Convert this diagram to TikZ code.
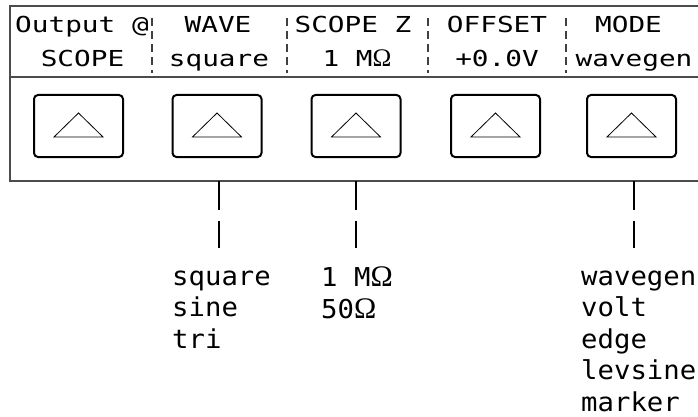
\documentclass[tikz,border=0pt]{standalone}
\usepackage{fontspec}
\usepackage{graphicx}
\newfontfamily\lcdtop[FakeStretch=1.26]{DejaVu Sans Mono}
\newfontfamily\lcdlow[FakeStretch=1.05]{DejaVu Sans Mono}
\newfontfamily\ohmfont{Liberation Serif}
\newcommand{\ohm}{{\ohmfont\scalebox{1.15}{Ω}}}
\begin{document}
\begin{tikzpicture}[x=1pt,y=-1pt,
  frameline/.style={draw=black!70, line width=1.5pt},
  divider/.style={draw=black!75, line width=1.2pt, dash pattern=on 8pt off 5pt},
  keybox/.style={draw=black, line width=2pt, rounded corners=4pt, minimum width=89pt, minimum height=62pt, inner sep=0pt},
  tri/.style={draw=black, line width=0.8pt},
  hdr/.style={font=\lcdtop\fontsize{22}{22}\selectfont, anchor=base, inner sep=0pt},
  opt/.style={font=\lcdlow\fontsize{26}{26}\selectfont, anchor=base west, inner sep=0pt},
  lead/.style={draw=black, line width=1.3pt}]
\useasboundingbox (0,0) rectangle (698,417);
% frame
\draw[frameline] (698,6) -- (10,6) -- (10,181) -- (698,181);
\draw[frameline] (10,77) -- (698,77);
% header dividers
\foreach \dx/\nm in {152/a,287/b,428/c,566/d}{
  \coordinate (dt\nm) at (\dx,18);
  \coordinate (db\nm) at (\dx,73);
  \draw[divider] (dt\nm) -- (db\nm);
}
% header texts
\node[hdr] (h1a) at (82,33) {Output @};
\node[hdr] (h2a) at (218,33) {WAVE};
\node[hdr] (h3a) at (353,33) {SCOPE Z};
\node[hdr] (h4a) at (497,33) {OFFSET};
\node[hdr] (h5a) at (628.5,33) {MODE};
\node[hdr] (h1b) at (82.5,66.5) {SCOPE};
\node[hdr] (h2b) at (219,66.5) {square};
\node[hdr] (h3b) at (357,66.5) {1 M\ohm};
\node[hdr] (h4b) at (497,66.5) {+0.0V};
\node[hdr] (h5b) at (634,66.5) {wavegen};
% keys
\foreach \cx/\nm in {78.5/k1,217/k2,356/k3,495.5/k4,631.5/k5}{
  \node[keybox] (\nm) at (\cx,126) {};
  \draw[tri] (\cx,113) -- (\cx+24.5,137) -- (\cx-24.5,137) -- cycle;
}
% option lists
\node[opt] (w1) at (172,285) {square};
\node[opt] (w2) at (172,316.5) {sine};
\node[opt] (w3) at (172,348) {tri};
\node[opt] (z1) at (321,286.5) {1 M\ohm};
\node[opt] (z2) at (321,318) {50\ohm};
\node[opt] (m1) at (581,285) {wavegen};
\node[opt] (m2) at (581,316.5) {volt};
\node[opt] (m3) at (581,348) {edge};
\node[opt] (m4) at (581,379.5) {levsine};
\node[opt] (m5) at (581,411) {marker};
% leader lines (broken)
\foreach \lx/\nm in {219/w,356/z,634/m}{
  \coordinate (\nm a) at (\lx,181);
  \coordinate (\nm b) at (\lx,210);
  \coordinate (\nm c) at (\lx,221);
  \coordinate (\nm d) at (\lx,248);
  \draw[lead] (\nm a) -- (\nm b);
  \draw[lead] (\nm c) -- (\nm d);
}
\end{tikzpicture}
\end{document}
